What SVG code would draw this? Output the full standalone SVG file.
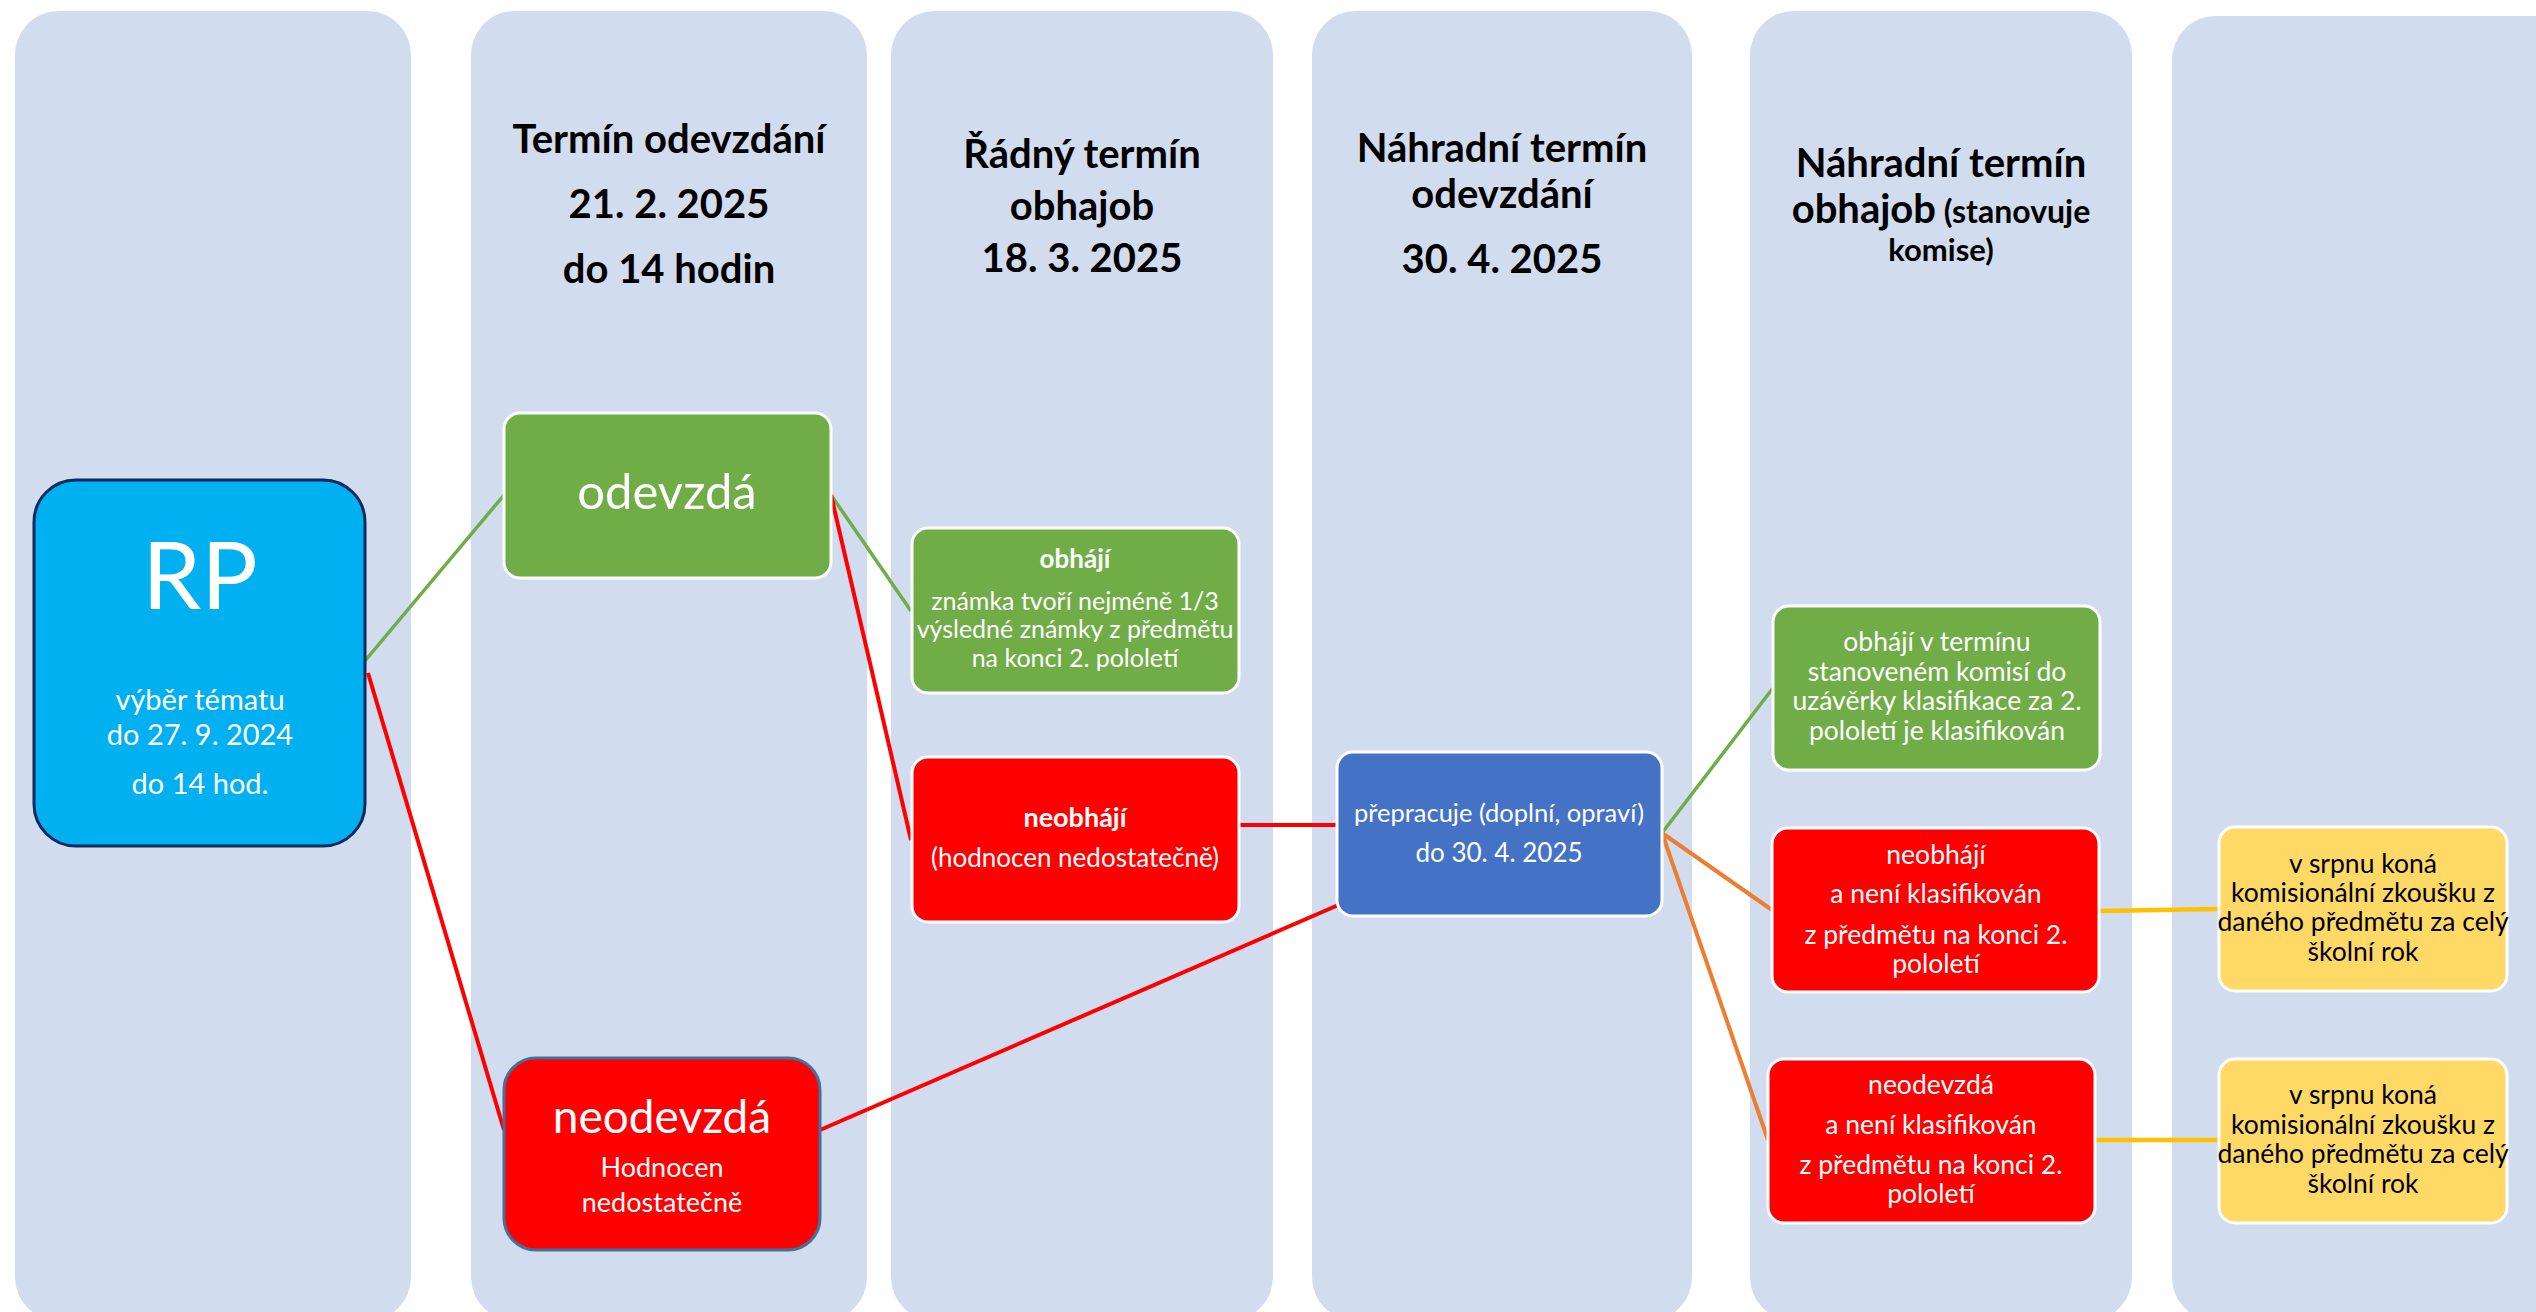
<svg xmlns="http://www.w3.org/2000/svg" width="2536" height="1312" viewBox="0 0 2536 1312">
<style>
.col{fill:#D1DCEE}
.hd{font-family:Lato,"Liberation Sans",sans-serif;font-weight:bold;fill:#000;text-anchor:middle}
.t{font-family:Lato,"Liberation Sans",sans-serif;fill:#fff;text-anchor:middle}
.tb{font-family:Lato,"Liberation Sans",sans-serif;fill:#000;text-anchor:middle}
.b{font-weight:bold}
.green{fill:#70AD47;stroke:#fff;stroke-width:3}
.red{fill:#FF0000;stroke:#fff;stroke-width:3}
.blue{fill:#4472C4;stroke:#fff;stroke-width:3}
.yel{fill:#FFD966;stroke:#fff;stroke-width:3}
.cg{stroke:#70AD47;stroke-width:3.5;fill:none}
.cr{stroke:#FF0000;stroke-width:4;fill:none}
.co{stroke:#ED7D31;stroke-width:4;fill:none}
.cy{stroke:#FFC000;stroke-width:4.5;fill:none}
</style>
<rect width="2536" height="1312" fill="#fff"/>
<g id="columns">
<g id="col1"><rect class="col" x="15" y="11" width="396" height="1310" rx="44" ry="44"/></g>
<g id="col2"><rect class="col" x="471" y="11" width="396" height="1310" rx="44" ry="44"/>
<text class="hd" font-size="40" x="669" y="153">Termín odevzdání</text>
<text class="hd" font-size="40" x="669" y="218">21. 2. 2025</text>
<text class="hd" font-size="40" x="669" y="283">do 14 hodin</text></g>
<g id="col3"><rect class="col" x="891" y="11" width="382" height="1310" rx="44" ry="44"/>
<text class="hd" font-size="40" x="1082" y="168">Řádný termín</text>
<text class="hd" font-size="40" x="1082" y="220">obhajob</text>
<text class="hd" font-size="40" x="1082" y="272">18. 3. 2025</text></g>
<g id="col4"><rect class="col" x="1312" y="11" width="380" height="1310" rx="44" ry="44"/>
<text class="hd" font-size="40" x="1502" y="162">Náhradní termín</text>
<text class="hd" font-size="40" x="1502" y="208">odevzdání</text>
<text class="hd" font-size="40" x="1502" y="273">30. 4. 2025</text></g>
<g id="col5"><rect class="col" x="1750" y="11" width="382" height="1310" rx="44" ry="44"/>
<text class="hd" font-size="40" x="1941" y="177">Náhradní termín</text>
<text class="hd" x="1941" y="223"><tspan font-size="40">obhajob</tspan><tspan font-size="32"> (stanovuje</tspan></text>
<text class="hd" font-size="31" x="1941" y="261">komise)</text></g>
<g id="col6"><rect class="col" x="2172" y="16" width="420" height="1305" rx="44" ry="44"/></g>
</g>
<g id="connectors">
<line class="cg" x1="364" y1="662" x2="504" y2="495"/>
<line class="cr" x1="368" y1="673" x2="504" y2="1130"/>
<line class="cg" x1="831" y1="495" x2="911" y2="611"/>
<line class="cr" x1="831" y1="495" x2="911" y2="840"/>
<line class="cr" x1="1238" y1="825" x2="1337" y2="825"/>
<line class="cr" x1="820" y1="1130" x2="1343" y2="903"/>
<line class="cg" x1="1662" y1="833" x2="1773" y2="688"/>
<line class="co" x1="1662" y1="833" x2="1772" y2="910"/>
<line class="co" x1="1662" y1="833" x2="1768" y2="1140"/>
<line class="cy" x1="2099" y1="911" x2="2219" y2="909"/>
<line class="cy" x1="2095" y1="1140" x2="2219" y2="1140"/>
</g>
<g id="rp">
<rect x="34" y="480" width="331" height="366" rx="42" ry="42" fill="#00B0F0" stroke="#0F2A5E" stroke-width="3"/>
<text class="t" font-size="94" x="200" y="609">RP</text>
<text class="t" font-size="29" x="200" y="710">výběr tématu</text>
<text class="t" font-size="29" x="200" y="745">do 27. 9. 2024</text>
<text class="t" font-size="29" x="200" y="794">do 14 hod.</text>
</g>
<g id="odevzda">
<rect class="green" x="504" y="413" width="327" height="165" rx="16" ry="16"/>
<text class="t" font-size="49" x="667" y="509">odevzdá</text>
</g>
<g id="neodevzda">
<rect x="504" y="1058" width="316" height="192" rx="32" ry="32" fill="#FF0000" stroke="#41719C" stroke-width="3"/>
<text class="t" font-size="46" x="662" y="1133">neodevzdá</text>
<text class="t" font-size="27" x="662" y="1177">Hodnocen</text>
<text class="t" font-size="27" x="662" y="1212">nedostatečně</text>
</g>
<g id="obhaji">
<rect class="green" x="912" y="528" width="327" height="165" rx="16" ry="16"/>
<text class="t b" font-size="26" x="1075" y="568">obhájí</text>
<text class="t" font-size="25" x="1075" y="610">známka tvoří nejméně 1/3</text>
<text class="t" font-size="25" x="1075" y="638">výsledné známky z předmětu</text>
<text class="t" font-size="25" x="1075" y="667">na konci 2. pololetí</text>
</g>
<g id="neobhaji">
<rect class="red" x="912" y="757" width="327" height="165" rx="16" ry="16"/>
<text class="t b" font-size="27" x="1075" y="827">neobhájí</text>
<text class="t" font-size="26" x="1075" y="867">(hodnocen nedostatečně)</text>
</g>
<g id="prepracuje">
<rect class="blue" x="1337" y="752" width="325" height="164" rx="16" ry="16"/>
<text class="t" font-size="25.5" x="1499" y="822">přepracuje (doplní, opraví)</text>
<text class="t" font-size="26" x="1499" y="862">do 30. 4. 2025</text>
</g>
<g id="obhaji2">
<rect class="green" x="1773" y="606" width="327" height="164" rx="16" ry="16"/>
<text class="t" font-size="26.5" x="1937" y="651">obhájí v termínu</text>
<text class="t" font-size="26.5" x="1937" y="681">stanoveném komisí do</text>
<text class="t" font-size="26.5" x="1937" y="710">uzávěrky klasifikace za 2.</text>
<text class="t" font-size="26.5" x="1937" y="740">pololetí je klasifikován</text>
</g>
<g id="neobhaji2">
<rect class="red" x="1772" y="828" width="327" height="164" rx="16" ry="16"/>
<text class="t" font-size="26.5" x="1936" y="864">neobhájí</text>
<text class="t" font-size="26.5" x="1936" y="903">a není klasifikován</text>
<text class="t" font-size="26.5" x="1936" y="944">z předmětu na konci 2.</text>
<text class="t" font-size="26.5" x="1936" y="973">pololetí</text>
</g>
<g id="neodevzda2">
<rect class="red" x="1768" y="1059" width="327" height="164" rx="16" ry="16"/>
<text class="t" font-size="26.5" x="1931" y="1094">neodevzdá</text>
<text class="t" font-size="26.5" x="1931" y="1134">a není klasifikován</text>
<text class="t" font-size="26.5" x="1931" y="1174">z předmětu na konci 2.</text>
<text class="t" font-size="26.5" x="1931" y="1203">pololetí</text>
</g>
<g id="zkouska1">
<rect class="yel" x="2219" y="827" width="288" height="164" rx="16" ry="16"/>
<text class="tb" font-size="26.5" x="2363" y="873">v srpnu koná</text>
<text class="tb" font-size="26.5" x="2363" y="902">komisionální zkoušku z</text>
<text class="tb" font-size="26.5" x="2363" y="931">daného předmětu za celý</text>
<text class="tb" font-size="26.5" x="2363" y="961">školní rok</text>
</g>
<g id="zkouska2">
<rect class="yel" x="2219" y="1059" width="288" height="164" rx="16" ry="16"/>
<text class="tb" font-size="26.5" x="2363" y="1104">v srpnu koná</text>
<text class="tb" font-size="26.5" x="2363" y="1134">komisionální zkoušku z</text>
<text class="tb" font-size="26.5" x="2363" y="1163">daného předmětu za celý</text>
<text class="tb" font-size="26.5" x="2363" y="1193">školní rok</text>
</g>
</svg>
